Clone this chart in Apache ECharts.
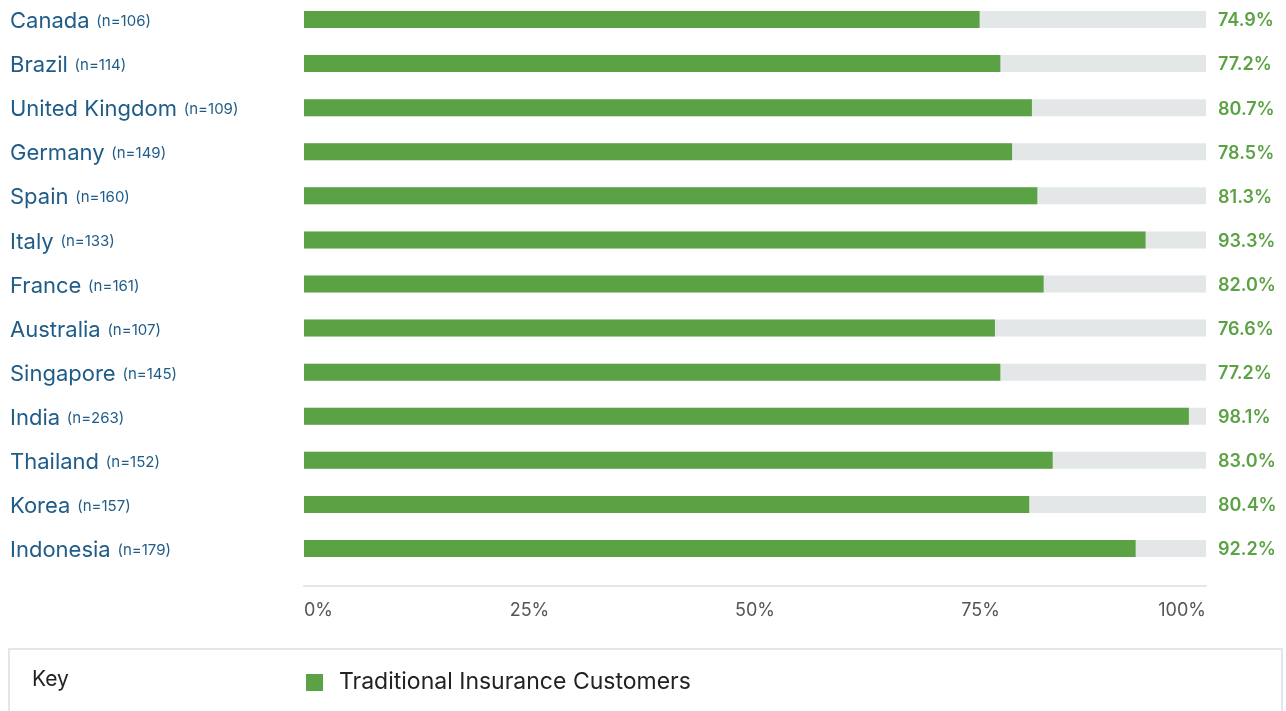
<!DOCTYPE html>
<html>
<head>
<meta charset="utf-8">
<script src="https://cdn.jsdelivr.net/npm/echarts@6/dist/echarts.min.js"></script>
<style>html,body{margin:0;padding:0;background:#fff}#c{width:1286px;height:711px}</style>
</head>
<body>
<div id="c"></div>
<script>
const countries = ['Canada','Brazil','United Kingdom','Germany','Spain','Italy','France','Australia','Singapore','India','Thailand','Korea','Indonesia'];
const sampleSizes = [106,114,109,149,160,133,161,107,145,263,152,157,179];
const values = [74.9,77.2,80.7,78.5,81.3,93.3,82.0,76.6,77.2,98.1,83.0,80.4,92.2];
const tickLabels = ['0%','25%','50%','75%','100%'];
const seriesName = 'Traditional Insurance Customers';

const FONT = 'Inter, "Open Sans", sans-serif';
const GREEN = '#5ba245';
const chart = echarts.init(document.getElementById('c'));
chart.setOption({
  animation: false,
  textStyle: {fontFamily: FONT},
  grid: {left: 304, right: 80, top: 19.5, height: 529, containLabel: false},
  xAxis: {
    type: 'value', min: 0, max: 100, interval: 25,
    offset: 37.5,
    axisLine: {show: true, lineStyle: {color: '#e3e7e7', width: 2}},
    axisTick: {show: false},
    splitLine: {show: false},
    axisLabel: {
      margin: 16, color: '#555', fontSize: 18, fontFamily: FONT,
      formatter: (v) => tickLabels[Math.round(v / 25)],
      alignMinLabel: 'left', alignMaxLabel: 'right'
    }
  },
  yAxis: {
    type: 'category', data: countries, inverse: true, boundaryGap: false,
    axisLine: {show: false}, axisTick: {show: false}, splitLine: {show: false},
    axisLabel: {
      align: 'left', margin: 294, padding: [4, 0, 0, 0],
      formatter: (v, i) => '{n|' + v + '}  {s|(n=' + sampleSizes[i] + ')}',
      rich: {
        n: {fontSize: 22, color: '#1f5c88', fontFamily: FONT},
        s: {fontSize: 15, color: '#1f5c88', fontFamily: FONT}
      }
    }
  },
  legend: {
    show: true, data: [seriesName], left: 301, top: 666,
    itemWidth: 17, itemHeight: 17, itemGap: 10, icon: 'rect',
    textStyle: {fontSize: 23, color: '#222', fontFamily: FONT, padding: [0, 0, 0, 11]}
  },
  graphic: [
    {type: 'rect', shape: {x: 9, y: 649, width: 1273, height: 80}, style: {fill: 'none', stroke: '#e3e7e7', lineWidth: 2}, silent: true},
    {type: 'text', left: 32, top: 669, style: {text: 'Key', fontSize: 21, fill: '#222', fontFamily: FONT}}
  ],
  series: [
    {
      name: 'bg', type: 'bar', barWidth: 17, barGap: '-100%',
      data: countries.map(() => 100),
      itemStyle: {color: '#e3e7e7'}, silent: true,
      label: {
        show: true, position: 'right', distance: 12, offset: [0, 1.5],
        formatter: (p) => values[p.dataIndex].toFixed(1) + '%',
        color: GREEN, fontSize: 18, fontWeight: 600, fontFamily: FONT
      }
    },
    {
      name: seriesName, type: 'bar', barWidth: 17, barGap: '-100%',
      data: values, itemStyle: {color: GREEN}
    }
  ]
});
</script>
</body>
</html>
